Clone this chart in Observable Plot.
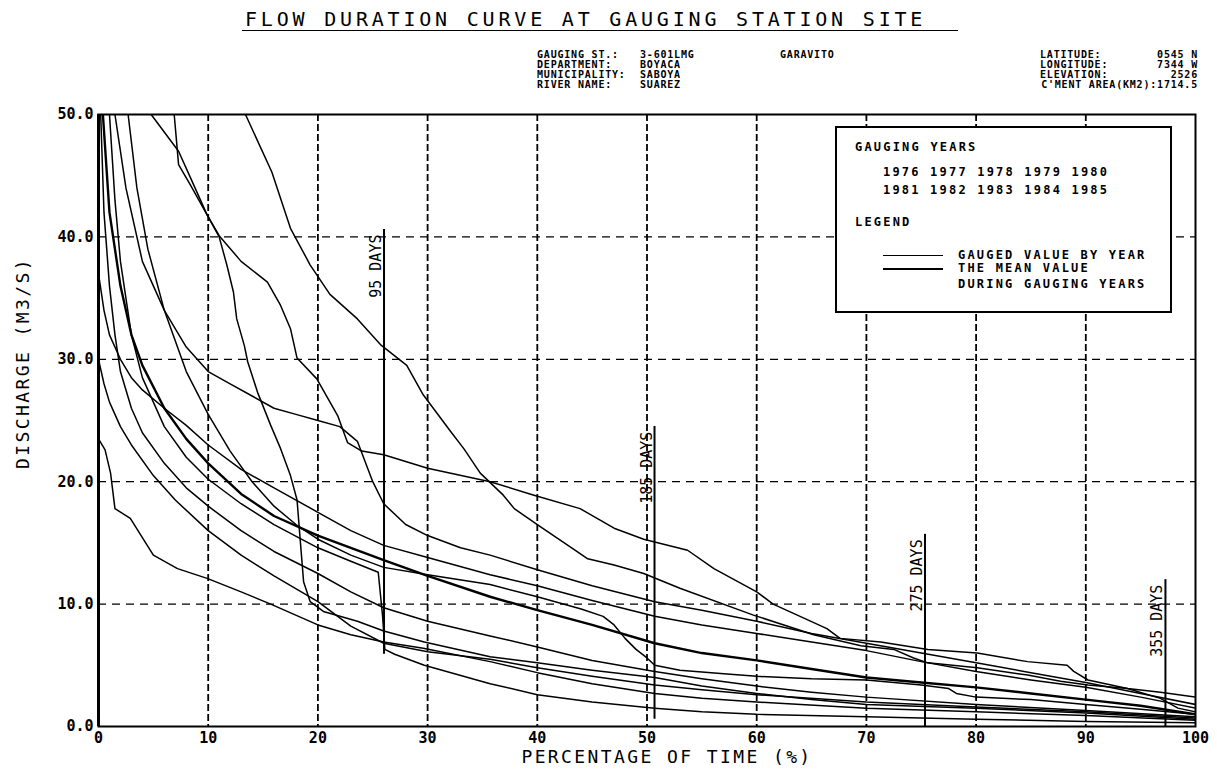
<!DOCTYPE html>
<html><head><meta charset="utf-8">
<script src="https://cdn.jsdelivr.net/npm/d3@7"></script>
<script src="https://cdn.jsdelivr.net/npm/@observablehq/plot@0.6"></script>
<style>
body{margin:0;background:#fff;}
#wrap{position:relative;width:1217px;height:778px;overflow:hidden;font-family:"DejaVu Sans Mono",monospace;color:#000;background:#fff;}
.t{position:absolute;white-space:pre;line-height:1;}
.h{font-size:10px;font-weight:bold;letter-spacing:0.8px;}
.lg{font-size:12px;font-weight:bold;letter-spacing:2.2px;}
#chart{position:absolute;left:0;top:100px;}
#legend{position:absolute;left:835px;top:126px;width:337px;height:187px;border:2px solid #000;background:#fff;box-sizing:border-box;}
.sample{position:absolute;height:0;border-top:1.5px solid #000;}
</style></head><body><div id="wrap">
<div class="t" style="left:245px;top:9px;font-size:20px;letter-spacing:3.8px;">FLOW DURATION CURVE AT GAUGING STATION SITE</div>
<div style="position:absolute;left:242px;top:30px;width:716px;border-top:1.5px solid #000;"></div>

<div class="t h" style="left:537px;top:49.5px;">GAUGING ST.:</div>
<div class="t h" style="left:537px;top:59.5px;">DEPARTMENT:</div>
<div class="t h" style="left:537px;top:69.5px;">MUNICIPALITY:</div>
<div class="t h" style="left:537px;top:79.5px;">RIVER NAME:</div>
<div class="t h" style="left:640px;top:49.5px;">3-601LMG</div>
<div class="t h" style="left:780px;top:49.5px;">GARAVITO</div>
<div class="t h" style="left:640px;top:59.5px;">BOYACA</div>
<div class="t h" style="left:640px;top:69.5px;">SABOYA</div>
<div class="t h" style="left:640px;top:79.5px;">SUAREZ</div>
<div class="t h" style="left:1040px;top:49.5px;">LATITUDE:</div>
<div class="t h" style="left:1040px;top:59.5px;">LONGITUDE:</div>
<div class="t h" style="left:1040px;top:69.5px;">ELEVATION:</div>
<div class="t h" style="right:19px;top:79.5px;">C'MENT AREA(KM2):1714.5</div>
<div class="t h" style="right:19px;top:49.5px;">0545 N</div>
<div class="t h" style="right:19px;top:59.5px;">7344 W</div>
<div class="t h" style="right:19px;top:69.5px;">2526</div>

<div id="chart"></div>

<div id="legend">
  <div class="t lg" style="left:18px;top:13px;">GAUGING YEARS</div>
  <div class="t lg" style="left:46px;top:38px;" id="yrs1"></div>
  <div class="t lg" style="left:46px;top:56px;" id="yrs2"></div>
  <div class="t lg" style="left:18px;top:88px;">LEGEND</div>
  <div class="sample" style="left:46px;top:127px;width:60px;"></div>
  <div class="t lg" style="left:121px;top:121px;">GAUGED VALUE BY YEAR</div>
  <div class="sample" style="left:46px;top:140px;width:60px;border-top-width:2.5px;"></div>
  <div class="t lg" style="left:121px;top:134px;">THE MEAN VALUE</div>
  <div class="t lg" style="left:121px;top:150px;">DURING GAUGING YEARS</div>
</div>

<div class="t" style="left:23px;top:363px;font-size:18px;letter-spacing:2.4px;transform:translate(-50%,-50%) rotate(-90deg);">DISCHARGE (M3/S)</div>
<div class="t" style="left:667px;top:757px;font-size:18px;letter-spacing:2.4px;transform:translate(-50%,-50%);">PERCENTAGE OF TIME (%)</div>
</div>
<script>
// ---- data ----
const gaugingYears = ["1976","1977","1978","1979","1980","1981","1982","1983","1984","1985"];
const xTicks = [0,10,20,30,40,50,60,70,80,90,100];
const yTicks = [0,10,20,30,40,50];
const xGrid = [10,20,30,40,50,60,70,80,90];
const yGrid = [10,20,30,40];

// each curve: [percentage of time, discharge m3/s]
const year1976 = [[4.8,50],[7.3,47],[8.4,44.8],[9.9,41.8],[11,40.1],[13,38],[15.4,36.3],[16.6,34.4],[17.5,32.5],[18.1,30.1],[19.9,28.4],[21.8,25.4],[22.7,23.2],[24,22.5],[26,22.2],[30,21.1],[35.7,20],[39.7,18.9],[43.9,17.8],[47,16.2],[49.7,15.3],[53.7,14.4],[56.1,12.9],[60,11],[61.5,10],[66.4,8],[67.6,7.2],[71.3,6.9],[75.6,6.3],[80.1,6.0],[84.7,5.3],[88.3,5.0],[88.9,4.5],[90.2,3.8],[93.8,3.1],[96.8,2.8],[100,2.4]];
const year1977 = [[13.4,50],[15.8,45.3],[17.5,40.7],[19.3,37.7],[21.1,35.3],[23.6,33.3],[25.7,31.2],[28.1,29.5],[29.6,27.1],[32.1,24.1],[33.3,22.7],[34.8,20.7],[36.9,18.9],[37.9,17.8],[40,16.5],[43.3,14.5],[44.6,13.7],[47,13.2],[49.7,12.5],[53,11.3],[59.7,9.1],[65.2,7.5],[69.5,6.6],[72.5,6.3],[74.3,5.6],[75.6,5.2],[80.1,4.8],[84.7,4.2],[87.7,3.7],[90.2,3.4],[93.8,3.1],[96.8,2.3],[98.4,1.5],[100,1.2]];
const year1978 = [[6.9,50],[7.3,45.9],[8.4,44.2],[9.9,41.8],[11,40],[11.7,37.7],[12.3,35.5],[12.6,33.3],[13.3,31.1],[13.6,29.8],[14.5,27.3],[15.7,24.6],[16.6,22.7],[17.5,20.5],[18.1,18.5],[18.4,15.1],[18.7,11.8],[19.3,10.2],[20.5,9.4],[23.6,8.6],[26,7.8],[29.7,6.9],[35.7,5.7],[40,5.2],[45,4.6],[50.7,4.0],[55,3.3],[60,2.7],[65,2.2],[70,1.8],[80,1.5],[90,1.1],[100,0.6]];
const year1979 = [[0,23.5],[0.6,22.6],[1.1,20.7],[1.5,17.8],[2.9,17],[5,14],[7.2,12.9],[9.9,12.1],[13,11],[15.7,10],[20,8.3],[23,7.5],[26,6.9],[29.6,6.4],[35.7,5.3],[40,4.4],[45,3.5],[50.7,2.7],[55,2.3],[60,2.0],[70,1.5],[80,1.2],[90,0.9],[100,0.5]];
const year1980 = [[0,37],[0.5,34],[1,32],[2,30],[3,28.5],[4,27.5],[6,26],[8,24.6],[10,23],[13,21],[16,19.5],[20,17.5],[23,16],[26,14.8],[30,13.8],[35.7,12.4],[40,11.5],[45,10.3],[50.7,9.0],[55,8.3],[60,7.6],[65,6.9],[70,6.2],[75,5.3],[80,4.5],[85,3.8],[90,3.2],[95,2.4],[100,1.5]];
const year1981 = [[1.5,50],[2.5,44],[4,38],[6,34],[8,31],[10,29],[12,28],[14,27],[16,26],[18,25.5],[20,25],[22,24.5],[23.6,23.3],[25,20],[26,18.2],[28,16.5],[30,15.6],[33,14.6],[35.7,14],[40,12.8],[45,11.5],[50.7,10.2],[55,9.5],[60,8.6],[65,7.6],[70,6.8],[75,6],[80,5.2],[85,4.4],[90,3.6],[95,2.7],[100,1.8]];
const year1982 = [[1,50],[1.5,43],[2,38],[3,32],[4,28.5],[6,24.5],[8,22],[10,20.2],[13,18.2],[16,16.5],[20,14.6],[23,13.5],[25.5,12.6],[25.9,9],[26.1,6.3],[27,5.9],[29.7,5.0],[35.7,3.5],[40,2.6],[45,2.0],[50.7,1.5],[55,1.2],[60,1.0],[70,0.8],[80,0.6],[90,0.4],[100,0.3]];
const year1983 = [[2.7,50],[3.5,44],[4.5,39],[6,34],[8,29],[10,25.5],[12,22.5],[14,20],[16,18],[18,16.5],[20,15.3],[23,14],[26,13],[30,12.4],[35.7,11.6],[40,10.6],[44,9.6],[46,9.0],[47,8.3],[48,7.2],[49,6.3],[50,5.6],[50.7,5.0],[53,4.6],[57,4.3],[60,4.1],[65,3.9],[70,3.8],[75,3.4],[77.5,3.1],[78.2,2.7],[80,2.4],[85,2.2],[90,1.8],[95,1.4],[100,1.0]];
const year1984 = [[0.2,50],[0.5,42],[1,36],[1.5,32],[2,29],[3,26],[4,24],[6,21.5],[8,19.5],[10,18],[13,16],[16,14.3],[20,12.5],[23,11],[26,9.7],[30,8.6],[35.7,7.4],[40,6.5],[45,5.4],[50.7,4.5],[55,3.9],[60,3.3],[65,2.8],[70,2.4],[80,1.8],[90,1.3],[100,0.8]];
const year1985 = [[0,30],[0.5,28],[1,26.5],[2,24.5],[3,23],[5,20.5],[7,18.5],[10,16],[13,14],[16,12.3],[20,10.2],[23,8.2],[26,6.8],[30,6.1],[35.7,5.5],[40,4.8],[45,4.1],[50.7,3.4],[55,3.0],[60,2.6],[70,2.0],[80,1.6],[90,1.2],[100,0.7]];
const meanCurve = [[0.4,50],[1,42],[2,36],[3,32],[4,29.5],[6,26],[8,23.5],[10,21.5],[13,19],[16,17.2],[20,15.6],[23,14.6],[26,13.6],[30,12.3],[35.7,10.6],[40,9.5],[45,8.3],[50.7,6.8],[55,6.0],[60,5.4],[65,4.7],[70,4.0],[75,3.6],[80,3.2],[85,2.7],[90,2.2],[95,1.7],[100,1.0]];

const markerDays = [95,185,275,355];
const markerLow  = [5.9,0.6,0,0];
const markerHigh = [40.6,24.5,15.7,12.0];

// ---- build ----
document.getElementById("yrs1").textContent = gaugingYears.slice(0,5).join(" ");
document.getElementById("yrs2").textContent = gaugingYears.slice(5).join(" ");

const yearly = [year1976,year1977,year1978,year1979,year1980,year1981,year1982,year1983,year1984,year1985];
const yearRows = yearly.flatMap((c,i)=>c.map(([x,y])=>({x,y,year:gaugingYears[i]})));
const meanRows = meanCurve.map(([x,y])=>({x,y}));
const markers = markerDays.map((d,i)=>({p:d/365*100, lo:markerLow[i], hi:markerHigh[i], label:d+" DAYS"}));

const chart = Plot.plot({
  width:1217, height:678,
  marginLeft:98, marginRight:22, marginTop:14, marginBottom:52,
  style:{fontFamily:"DejaVu Sans Mono, monospace", fontSize:"15px", fontWeight:"bold", color:"#000", background:"#fff"},
  x:{domain:[0,100]},
  y:{domain:[0,50]},
  marks:[
    Plot.ruleX(xGrid,{stroke:"#000",strokeWidth:1.8,strokeDasharray:"7,3"}),
    Plot.ruleY(yGrid,{stroke:"#000",strokeWidth:1.3,strokeDasharray:"8,6"}),
    Plot.line(yearRows,{x:"x",y:"y",z:"year",stroke:"#000",strokeWidth:1.5,clip:true}),
    Plot.line(meanRows,{x:"x",y:"y",stroke:"#000",strokeWidth:2.4,clip:true}),
    Plot.ruleX(markers,{x:"p",y1:"lo",y2:"hi",stroke:"#000",strokeWidth:2}),
    Plot.text(markers,{x:"p",y:"hi",text:"label",rotate:-90,textAnchor:"end",lineAnchor:"bottom",dx:-3,dy:5,fontSize:15,fontWeight:"normal"}),
    Plot.frame({stroke:"#000",strokeWidth:2}),
    Plot.ruleX([0],{stroke:"#000",strokeWidth:3}),
    Plot.axisX({ticks:xTicks,tickSize:0,tickPadding:6,tickFormat:d=>String(d),label:null}),
    Plot.axisY({ticks:yTicks,tickSize:0,tickPadding:5,tickFormat:d=>d.toFixed(1),label:null})
  ]
});
document.getElementById("chart").appendChild(chart);
</script>
</body></html>
